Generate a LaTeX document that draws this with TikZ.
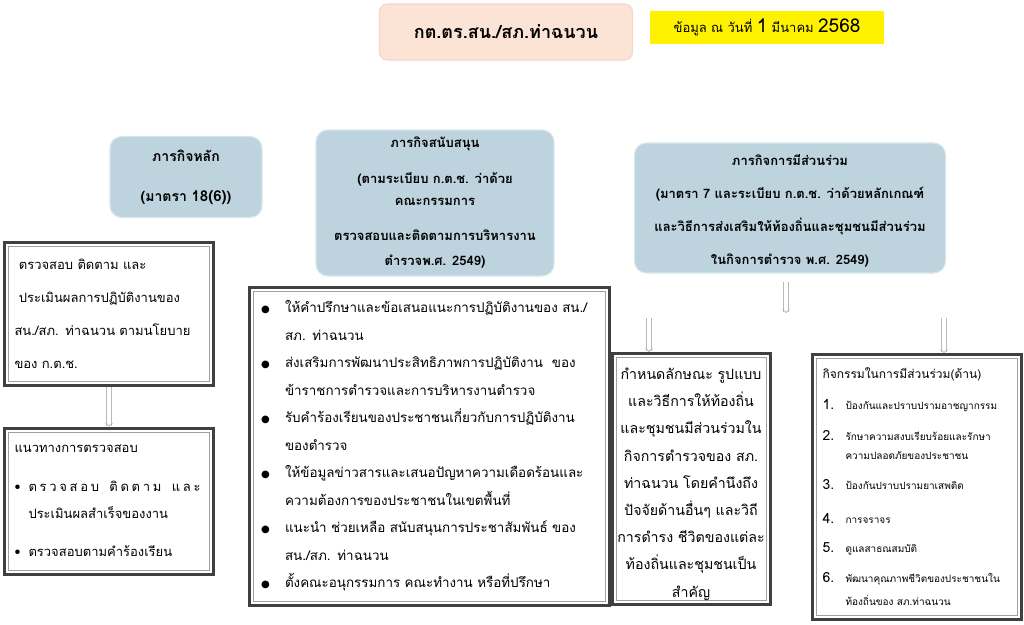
\documentclass[tikz,border=0pt]{standalone}
\usepackage{fontspec}
\setmainfont[Script=Thai]{Loma}
\newfontfamily\symfont{DejaVu Sans}
\usetikzlibrary{positioning,arrows.meta}
\definecolor{headfill}{RGB}{189,211,222}
\definecolor{headline}{RGB}{216,229,237}
\definecolor{titlefill}{RGB}{251,228,214}
\definecolor{titleline}{RGB}{246,214,198}
\definecolor{framedark}{RGB}{64,64,64}
\definecolor{framegray}{RGB}{160,160,160}
\definecolor{arrowgray}{RGB}{185,185,185}
\newcommand{\bul}{\makebox[24pt][l]{\fontsize{10}{10}\symfont ●}}
\newcommand{\ind}{\hspace*{24pt}}
\newcommand{\sbul}{\makebox[14pt][l]{\textbullet}}
\newcommand{\sind}{\hspace*{14pt}}
\newcommand{\num}[1]{\makebox[23pt][l]{\fontsize{14}{14}\selectfont #1.}}

\begin{document}
\begin{tikzpicture}[x=1pt, y=-1pt, font=\fontsize{13}{27}\selectfont,
  head/.style = {draw=headline, fill=headfill, line width=1.2pt, rounded corners=12pt, align=center, inner sep=0pt, font=\fontsize{13}{33}\selectfont\bfseries},
  frame/.style = {draw=framedark, line width=3pt, fill=white, inner ysep=0pt,
    path picture={\draw[framegray, line width=1pt] ([shift={(4pt,-4pt)}]path picture bounding box.north west) rectangle ([shift={(-4pt,4pt)}]path picture bounding box.south east);}},
  hollow/.style = {draw=arrowgray, double=white, double distance=3.5pt, line width=0.8pt, -{Straight Barb[length=3pt, width=7pt]}}]
\useasboundingbox (0,0) rectangle (1024,624);

\node[draw=titleline, fill=titlefill, line width=1.2pt, rounded corners=8pt, minimum width=253pt, minimum height=56pt, font=\fontsize{18}{18}\selectfont\bfseries] (title) at (506,32) {กต.ตร.สน./สภ.ท่าฉนวน};
\node[fill=yellow, minimum width=234pt, minimum height=33pt, font=\fontsize{13}{13}\selectfont] (date) at (767,27) {ข้อมูล ณ วันที่ {\fontsize{19}{19}\selectfont 1} มีนาคม {\fontsize{19}{19}\selectfont 2568}};

\node[head, minimum width=152pt, minimum height=81pt, font=\fontsize{14}{40}\selectfont\bfseries] (main) at (186,177) {ภารกิจหลัก\\(มาตรา {\fontsize{15}{15}\selectfont 18(6)})};
\node[head, minimum width=238pt, minimum height=146pt, font=\fontsize{13}{22}\selectfont\bfseries] (support) at (435,203) {ภารกิจสนับสนุน\\[14pt](ตามระเบียบ ก.ต.ช. ว่าด้วย\\คณะกรรมการ\\[13pt]ตรวจสอบและติดตามการบริหารงาน\\[3pt]ตำรวจพ.ศ. 2549)};
\node[head, minimum width=311pt, minimum height=130pt] (part) at (790,208) {\rule{0pt}{17pt}ภารกิจการมีส่วนร่วม\\(มาตรา 7 และระเบียบ ก.ต.ช. ว่าด้วยหลักเกณฑ์\\และวิธีการส่งเสริมให้ท้องถิ่นและชุมชนมีส่วนร่วม\\ในกิจการตำรวจ พ.ศ. 2549)};

\node[frame, minimum width=209pt, minimum height=143pt, text width=189pt, inner xsep=10pt, align=left, font=\fontsize{13}{33}\selectfont] (check) at (109,314) {\ ตรวจสอบ ติดตาม และ\\\ ประเมินผลการปฏิบัติงานของ\\สน./สภ. ท่าฉนวน ตามนโยบาย\\ของ ก.ต.ช.};
\node[frame, minimum width=209pt, minimum height=146pt, text width=189pt, inner xsep=10pt, align=left, font=\fontsize{13}{27}\selectfont] (guide) at (109,501) {แนวทางการตรวจสอบ\\[12pt]\sbul\makebox[172pt][s]{ต\hfil ร\hfil ว\hfil จ\hfil ส\hfil อ\hfil บ\hfil\hspace{5pt}\hfil ติ\hfil ด\hfil ต\hfil า\hfil ม\hfil\hspace{5pt}\hfil แ\hfil ล\hfil ะ}\\\sind ประเมินผลสำเร็จของงาน\\[11pt]\sbul ตรวจสอบตามคำร้องเรียน};

\node[frame, minimum width=360pt, minimum height=318pt, text width=336pt, inner xsep=12pt, align=left, font=\fontsize{13.4}{27.5}\selectfont] (duty) at (429,446) {\bul ให้คำปรึกษาและข้อเสนอแนะการปฏิบัติงานของ สน./\\\ind สภ. ท่าฉนวน\\\bul ส่งเสริมการพัฒนาประสิทธิภาพการปฏิบัติงาน\ \ ของ\\\ind ข้าราชการตำรวจและการบริหารงานตำรวจ\\\bul รับคำร้องเรียนของประชาชนเกี่ยวกับการปฏิบัติงาน\\\ind ของตำรวจ\\\bul ให้ข้อมูลข่าวสารและเสนอปัญหาความเดือดร้อนและ\\\ind ความต้องการของประชาชนในเขตพื้นที่\\\bul แนะนำ ช่วยเหลือ สนับสนุนการประชาสัมพันธ์ ของ\\\ind สน./สภ. ท่าฉนวน\\\bul ตั้งคณะอนุกรรมการ คณะทำงาน หรือที่ปรึกษา};

\node[frame, minimum width=158pt, minimum height=251pt, text width=148pt, inner xsep=5pt, align=center, font=\fontsize{14.2}{27.2}\selectfont] (form) at (691,479) {\rule{0pt}{22pt}กำหนดลักษณะ รูปแบบ\\และวิธีการให้ท้องถิ่น\\และชุมชนมีส่วนร่วมใน\\กิจการตำรวจของ สภ.\\ท่าฉนวน โดยคำนึงถึง\\ปัจจัยด้านอื่นๆ และวิถี\\การดำรง ชีวิตของแต่ละ\\ท้องถิ่นและชุมชนเป็น\\สำคัญ};

\node[frame, minimum width=209pt, minimum height=265pt, text width=189pt, inner xsep=10pt, align=left, font=\fontsize{10}{19}\selectfont] (activity) at (917,487) {{\fontsize{12}{12}\selectfont กิจกรรมในการมีส่วนร่วม(ด้าน)}\\[12pt]\num{1}ป้องกันและปราบปรามอาชญากรรม\\[12pt]\num{2}รักษาความสงบเรียบร้อยและรักษา\\\hspace*{23pt}ความปลอดภัยของประชาชน\\[11pt]\num{3}ป้องกันปราบปรามยาเสพติด\\[15pt]\num{4}การจราจร\\[10pt]\num{5}ดูแลสาธณสมบัติ\\[11pt]\num{6}พัฒนาคุณภาพชีวิตของประชาชนใน\\[4pt]\hspace*{23pt}ท้องถิ่นของ สภ.ท่าฉนวน};

\coordinate (hang) at (786,313);
\coordinate (formtop) at (649,318);
\coordinate (acttop) at (944,318);
\draw[hollow] (check.south) -- (guide.north);
\draw[hollow, shorten <=8pt] (part.south -| hang) -- (hang);
\draw[hollow] (formtop) -- (formtop |- form.north);
\draw[hollow] (acttop) -- (acttop |- activity.north);
\end{tikzpicture}
\end{document}
